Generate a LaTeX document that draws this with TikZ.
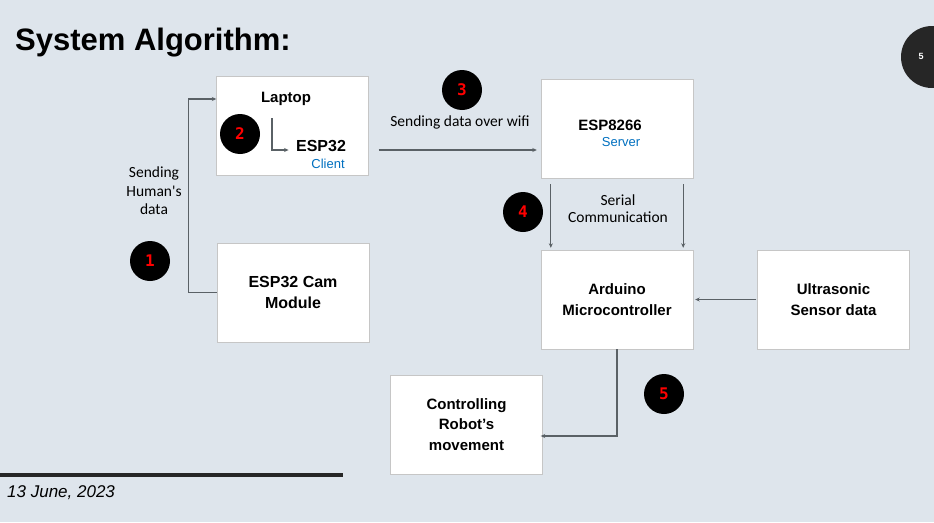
\documentclass[tikz,border=0pt]{standalone}
\usepackage{fontspec}
\setmainfont{Liberation Sans}
\newfontfamily\notefont{Carlito}
\newfontfamily\numfont{DejaVu Sans Mono}
\usetikzlibrary{arrows.meta,positioning,calc}
\definecolor{slidebg}{HTML}{DEE5EC}
\definecolor{wiregray}{HTML}{5A6166}
\definecolor{roleblue}{HTML}{0070C0}
\definecolor{pagedark}{HTML}{262626}
\tikzset{
  blk/.style={draw=gray!45, fill=white, minimum width=152pt, minimum height=99pt,
    inner sep=0pt, align=center, font=\bfseries\fontsize{15}{20.5}\selectfont},
  num/.style={circle, fill=black, minimum size=40pt, inner sep=0pt, text=red,
    font=\numfont\bfseries\fontsize{16}{16}\selectfont},
  wire/.style={draw=wiregray, line width=1.2pt, -{Stealth[length=4.5pt,width=4pt]}},
  note/.style={align=center, font=\notefont\fontsize{15.5}{18.5}\selectfont},
  role/.style={text=roleblue, font=\fontsize{13}{13}\selectfont}
}
\begin{document}
\begin{tikzpicture}[x=1pt,y=-1pt]
  \useasboundingbox (0,0) rectangle (934,522);
  \fill[slidebg] (0,0) rectangle (934,522);
  \begin{scope}
    \clip (0,0) rectangle (934,522);
    \fill[pagedark] (932,57) circle [radius=31];
  \end{scope}
  \node[text=white, font=\bfseries\fontsize{9}{9}\selectfont] (page) at (921,56) {5};

  % title and footer
  \node[anchor=base west, font=\bfseries\fontsize{31}{31}\selectfont, inner sep=0pt] (title) at (15,50) {System Algorithm:};
  \draw[pagedark, line width=4pt] (0,475) -- (343,475);
  \node[anchor=base west, font=\itshape\fontsize{17}{17}\selectfont, inner sep=0pt] (date) at (7,497) {13 June, 2023};

  % blocks
  \node[blk] (laptop) at (292.5,126) {};
  \node[blk, font=\bfseries\fontsize{16}{20.5}\selectfont] (cam) at (293,292.5) {ESP32 Cam\\Module};
  \node[blk] (esp) at (617,128.5) {};
  \node[blk] (ard) at (617,299.5) {Arduino\\Microcontroller};
  \node[blk] (ultra) at (833.5,299.5) {Ultrasonic\\Sensor data};
  \node[blk] (ctrl) at (466.5,424.5) {Controlling\\Robot's\\movement};

  % texts inside the two upper blocks
  \node[font=\bfseries\fontsize{15}{15}\selectfont] (laptoptxt) at (286,99) {Laptop};
  \node[font=\bfseries\fontsize{16}{16}\selectfont] (client) at (321,146) {ESP32};
  \node[role] (clienttxt) at (328,164) {Client};
  \node[font=\bfseries\fontsize{15}{15}\selectfont] (server) at (610,125) {ESP8266};
  \node[role] (servertxt) at (621,142) {Server};

  % step numbers
  \node[num] (n1) at (150,261) {1};
  \node[num] (n2) at (240,134) {2};
  \node[num] (n3) at (462,90) {3};
  \node[num] (n4) at (523,212) {4};
  \node[num] (n5) at (664,394) {5};

  % notes
  \node[note] (humannote) at (154,191) {Sending\\Human's\\data};
  \node[note] (wifinote) at (460,122) {Sending data over wifi};
  \node[note, font=\notefont\fontsize{15.5}{17.5}\selectfont] (serialnote) at (618,208.5) {Serial\\Communication};

  % connectors
  \draw[wire] (cam.west) -- ++(-28,0) |- ([yshift=27pt]laptop.west);
  \coordinate (lapdown) at (272,118);
  \draw[wire] (lapdown) |- ([shift={(-4,4)}]client.west);
  \coordinate (wifistart) at ([shift={(10,24)}]laptop.east);
  \draw[wire] (wifistart) -- ($(esp.west |- wifistart)+(-4,0)$);
  \draw[wire] ([shift={(10,6)}]esp.south west) -- ([shift={(10,-2)}]ard.north west);
  \draw[wire] ([shift={(-10,6)}]esp.south east) -- ([shift={(-10,-2)}]ard.north east);
  \draw[wire] ([xshift=-1pt]ultra.west) -- ([xshift=2pt]ard.east);
  \draw[wire] (ard.south) |- ([shift={(-2,11.5)}]ctrl.east);
\end{tikzpicture}
\end{document}
